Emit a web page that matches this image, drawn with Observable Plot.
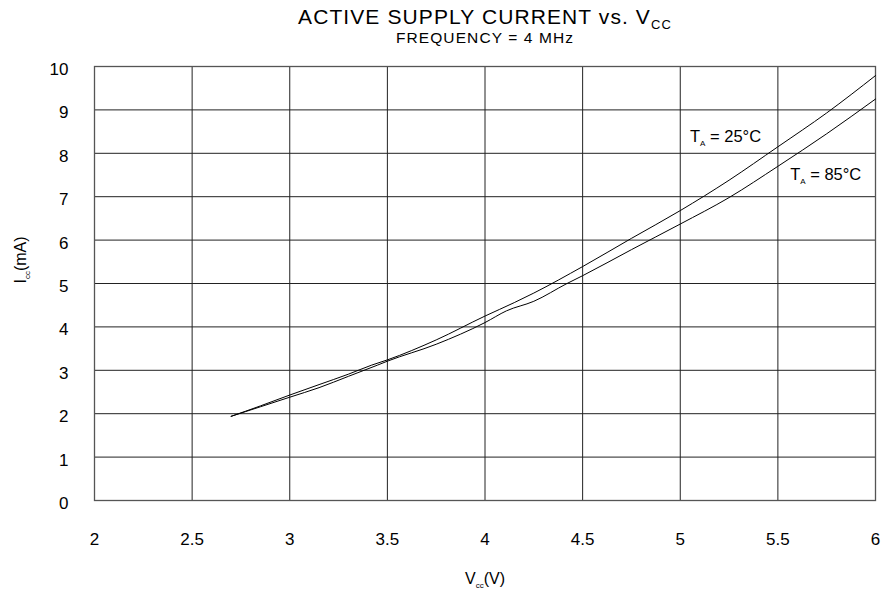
<!DOCTYPE html>
<html><head><meta charset="utf-8">
<script src="https://cdn.jsdelivr.net/npm/d3@7"></script>
<script src="https://cdn.jsdelivr.net/npm/@observablehq/plot@0.6"></script>
<style>body{margin:0;background:#fff;font-family:"Liberation Sans",Arial,Helvetica,sans-serif}</style>
</head><body><div id="chart"></div>
<script>
// Data
const vcc25 = [2.70, 2.85, 3.00, 3.15, 3.30, 3.42, 3.50, 3.75, 4.00, 4.15, 4.25, 4.50, 4.75, 5.00, 5.25, 5.50, 5.75, 6.00];
const icc25 = [1.94, 2.18, 2.43, 2.67, 2.91, 3.12, 3.24, 3.70, 4.25, 4.56, 4.78, 5.39, 6.04, 6.68, 7.38, 8.15, 8.93, 9.79];
const vcc85 = [2.70, 2.85, 3.00, 3.15, 3.30, 3.45, 3.50, 3.75, 4.00, 4.11, 4.25, 4.42, 4.50, 4.75, 5.00, 5.25, 5.50, 5.75, 6.00];
const icc85 = [1.94, 2.16, 2.38, 2.60, 2.86, 3.12, 3.21, 3.60, 4.10, 4.37, 4.59, 5.00, 5.18, 5.78, 6.37, 6.98, 7.70, 8.45, 9.25];
const xTicks = [2, 2.5, 3, 3.5, 4, 4.5, 5, 5.5, 6];
const yTicks = [0, 1, 2, 3, 4, 5, 6, 7, 8, 9, 10];
const seriesTemp = ["25", "85"];
const labelX = [5.05, 5.563];
const labelY = [8.375, 7.51];
const labelText = ["T_A = 25°C", "T_A = 85°C"];
const titleText = "ACTIVE SUPPLY CURRENT vs. V_CC";
const subtitleText = "FREQUENCY = 4 MHz";
const xLabel = "V_cc(V)";
const yLabel = "I_cc(mA)";

const rows = [
  ...vcc25.map((v, i) => ({v, i: icc25[i], t: seriesTemp[0]})),
  ...vcc85.map((v, i) => ({v, i: icc85[i], t: seriesTemp[1]}))
];
const labels = labelText.map((s, k) => ({x: labelX[k], y: labelY[k], s}));

const font = '"Liberation Sans", Arial, Helvetica, sans-serif';
const plot = Plot.plot({
  width: 889, height: 589,
  marginLeft: 94, marginRight: 14, marginTop: 66, marginBottom: 89,
  style: {fontFamily: font, fontSize: "17px", color: "#000", background: "#fff"},
  x: {domain: [2, 6], ticks: xTicks, tickSize: 0, tickPadding: 32, label: null, tickFormat: d => String(d)},
  y: {domain: [0, 10], ticks: yTicks, tickSize: 0, tickPadding: 26, label: null, tickFormat: d => String(d)},
  marks: [
    Plot.gridX(xTicks, {stroke: "#222", strokeOpacity: 1, strokeWidth: 1}),
    Plot.gridY(yTicks, {stroke: "#222", strokeOpacity: 1, strokeWidth: 1}),
    Plot.frame({stroke: "#555", strokeWidth: 1.3}),
    Plot.line(rows, {x: "v", y: "i", z: "t", stroke: "#000", strokeWidth: 1, curve: "monotone-x"}),
    Plot.text(labels, {x: "x", y: "y", text: "s", textAnchor: "start", fontSize: 16.5, fill: "#000"}),
    Plot.text([titleText], {frameAnchor: "top", lineAnchor: "middle", dy: -49, fontSize: 21, fill: "#000"}),
    Plot.text([subtitleText], {frameAnchor: "top", lineAnchor: "middle", dy: -28, fontSize: 15.5, fill: "#000"}),
    Plot.text([xLabel], {frameAnchor: "bottom", lineAnchor: "middle", dy: 78, fontSize: 16, fill: "#000"}),
    Plot.text([yLabel], {frameAnchor: "left", lineAnchor: "middle", dx: -74, rotate: -90, fontSize: 16, fill: "#000"})
  ]
});
document.getElementById("chart").appendChild(plot);

const svg = d3.select(plot);
// nudge y tick labels slightly down as in the reference
svg.selectAll('g[aria-label="y-axis tick label"]').each(function () {
  const g = d3.select(this);
  const tr = g.attr("transform") || "";
  g.attr("transform", (tr + " translate(0,3)").trim());
});
// letter spacing on the title lines
svg.selectAll("text").each(function () {
  const t = d3.select(this).text();
  if (t === titleText) d3.select(this).attr("letter-spacing", 1.1);
  if (t === subtitleText) d3.select(this).attr("letter-spacing", 1.1);
});
// Render "_X" segments as subscripts
svg.selectAll("text").each(function () {
  const el = d3.select(this);
  const txt = el.text();
  const m = txt.match(/^(.*?)_([A-Za-z]+)(.*)$/);
  if (!m) return;
  const isTitle = txt === titleText;
  const subSize = isTitle ? 13 : 8;
  const shift = isTitle ? 5 : 4;
  el.text(null);
  el.append("tspan").text(m[1]);
  el.append("tspan").attr("font-size", subSize).attr("dy", shift).text(m[2]);
  if (m[3]) el.append("tspan").attr("dy", -shift).text(m[3]);
});
</script>
</body></html>
